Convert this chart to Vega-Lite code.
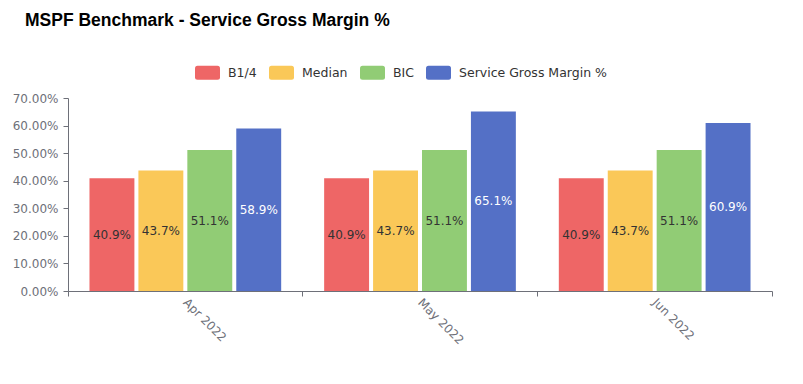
{
  "$schema": "https://vega.github.io/schema/vega-lite/v6.json",
  "width": 704,
  "height": 193,
  "autosize": "none",
  "padding": {"left": 68, "top": 98, "right": 31, "bottom": 93},
  "background": "white",
  "title": {
    "text": "MSPF Benchmark - Service Gross Margin %",
    "anchor": "start",
    "frame": "group",
    "font": "Liberation Sans",
    "fontSize": 17.5,
    "fontWeight": "bold",
    "color": "#000000",
    "dx": -43,
    "offset": 31
  },
  "config": {
    "view": {"stroke": null},
    "font": "DejaVu Sans",
    "axis": {
      "labelColor": "#6e7079",
      "labelFontSize": 12,
      "labelFont": "DejaVu Sans",
      "domainColor": "#6e7079",
      "tickColor": "#6e7079",
      "grid": false,
      "labelOverlap": false
    }
  },
  "data": {
    "values": [
      {"month": "Apr 2022", "series": "B1/4", "value": 0.409},
      {"month": "Apr 2022", "series": "Median", "value": 0.437},
      {"month": "Apr 2022", "series": "BIC", "value": 0.511},
      {"month": "Apr 2022", "series": "Service Gross Margin %", "value": 0.589},
      {"month": "May 2022", "series": "B1/4", "value": 0.409},
      {"month": "May 2022", "series": "Median", "value": 0.437},
      {"month": "May 2022", "series": "BIC", "value": 0.511},
      {"month": "May 2022", "series": "Service Gross Margin %", "value": 0.651},
      {"month": "Jun 2022", "series": "B1/4", "value": 0.409},
      {"month": "Jun 2022", "series": "Median", "value": 0.437},
      {"month": "Jun 2022", "series": "BIC", "value": 0.511},
      {"month": "Jun 2022", "series": "Service Gross Margin %", "value": 0.609}
    ]
  },
  "encoding": {
    "x": {
      "field": "month",
      "type": "nominal",
      "sort": null,
      "title": null,
      "scale": {"paddingInner": 0, "paddingOuter": 0},
      "axis": {
        "labelAngle": 45,
        "labelAlign": "left",
        "labelBaseline": "middle",
        "labelPadding": 4,
        "bandPosition": 1,
        "tickExtra": true,
        "tickSize": 5
      }
    },
    "xOffset": {
      "field": "series",
      "type": "nominal",
      "sort": ["B1/4", "Median", "BIC", "Service Gross Margin %"],
      "scale": {"paddingInner": 0.082, "paddingOuter": 0.439}
    }
  },
  "layer": [
    {
      "mark": {"type": "bar"},
      "encoding": {
        "y": {
          "field": "value",
          "type": "quantitative",
          "title": null,
          "scale": {"domain": [0, 0.7], "nice": false},
          "axis": {"format": ".2%", "values": [0, 0.1, 0.2, 0.3, 0.4, 0.5, 0.6, 0.7], "tickSize": 5, "labelPadding": 5}
        },
        "color": {
          "field": "series",
          "type": "nominal",
          "sort": ["B1/4", "Median", "BIC", "Service Gross Margin %"],
          "scale": {
            "domain": ["B1/4", "Median", "BIC", "Service Gross Margin %"],
            "range": ["#ee6666", "#fac858", "#91cc75", "#5470c6"]
          },
          "legend": {
            "title": null,
            "orient": "none",
            "direction": "horizontal",
            "legendX": 127,
            "legendY": -38,
            "symbolType": "M-0.8,-0.56 L0.8,-0.56 Q1,-0.56 1,-0.36 L1,0.36 Q1,0.56 0.8,0.56 L-0.8,0.56 Q-1,0.56 -1,0.36 L-1,-0.36 Q-1,-0.56 -0.8,-0.56 Z",
            "symbolSize": 625,
            "symbolStrokeWidth": 0,
            "symbolOpacity": 1,
            "labelFont": "DejaVu Sans",
            "labelFontSize": 12.5,
            "labelColor": "#333333",
            "labelOffset": 8,
            "columnPadding": 12
          }
        }
      }
    },
    {
      "transform": [{"calculate": "datum.value / 2", "as": "mid"}],
      "mark": {"type": "text", "fontSize": 12, "baseline": "middle", "font": "DejaVu Sans"},
      "encoding": {
        "y": {
          "field": "mid",
          "type": "quantitative",
          "title": null,
          "scale": {"domain": [0, 0.7], "nice": false},
          "axis": {"format": ".2%", "values": [0, 0.1, 0.2, 0.3, 0.4, 0.5, 0.6, 0.7], "tickSize": 5, "labelPadding": 5}
        },
        "text": {"field": "value", "type": "quantitative", "format": ".1%"},
        "color": {
          "condition": {"test": "datum.series === 'Service Gross Margin %'", "value": "#ffffff"},
          "value": "#333333"
        },
        "fontWeight": {
          "condition": {"test": "datum.series === 'Service Gross Margin %'", "value": "bold"},
          "value": "normal"
        }
      }
    }
  ]
}
